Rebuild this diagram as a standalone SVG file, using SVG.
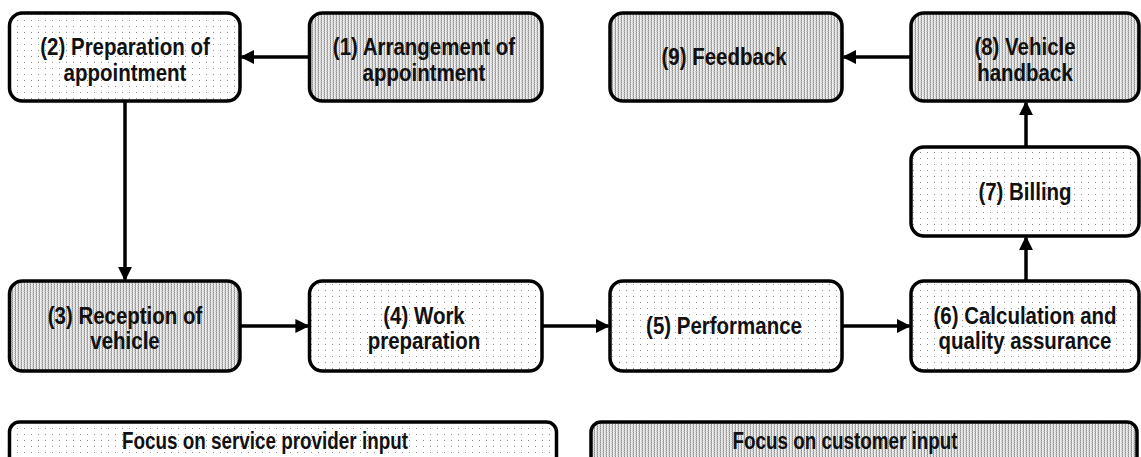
<svg xmlns="http://www.w3.org/2000/svg" width="1141" height="457" viewBox="0 0 1141 457">
<defs>
<pattern id="dots" x="0" y="0" width="7" height="6" patternUnits="userSpaceOnUse">
<rect width="7" height="6" fill="#ffffff"/>
<rect x="3" y="2" width="1" height="1" fill="#8f8f8f"/>
</pattern>
<pattern id="dense" x="0" y="0" width="3" height="2" patternUnits="userSpaceOnUse">
<rect width="3" height="2" fill="#ececec"/>
<rect x="0" y="0" width="1" height="1" fill="#8c8c8c"/>
<rect x="0" y="1" width="1" height="1" fill="#b4b4b4"/>
<rect x="2" y="1" width="1" height="1" fill="#c8c8c8"/>
</pattern>
<marker id="arr" viewBox="0 0 10 10" refX="9" refY="5" markerWidth="4" markerHeight="4" orient="auto" markerUnits="strokeWidth">
<path d="M0,0 L10,5 L0,10 Z" fill="#000"/>
</marker>
</defs>
<style>
.p{fill:url(#dots);stroke:#000;stroke-width:3.5}
.c{fill:url(#dense);stroke:#000;stroke-width:3.5}
text{font-family:"Liberation Sans",Arial,sans-serif;font-weight:bold;font-size:23px;fill:#111;text-anchor:middle}
.l{font-size:23px}
.e{fill:none;stroke:#000;stroke-width:3.5;marker-end:url(#arr)}
</style>
<g id="n2"><rect class="p" x="9.5" y="13" width="230.5" height="88" rx="13"/><text transform="translate(125,55) scale(0.89,1)"><tspan x="0" y="0">(2) Preparation of</tspan><tspan x="0" y="26">appointment</tspan></text></g>
<g id="n1"><rect class="c" x="309.5" y="13" width="232.5" height="88" rx="13"/><text transform="translate(424,55) scale(0.89,1)"><tspan x="0" y="0">(1) Arrangement of</tspan><tspan x="0" y="26">appointment</tspan></text></g>
<g id="n9"><rect class="c" x="610" y="13" width="232" height="88" rx="13"/><text transform="translate(724,65) scale(0.89,1)">(9) Feedback</text></g>
<g id="n8"><rect class="c" x="911" y="13" width="228" height="88" rx="13"/><text transform="translate(1025,55) scale(0.89,1)"><tspan x="0" y="0">(8) Vehicle</tspan><tspan x="0" y="26">handback</tspan></text></g>
<g id="n7"><rect class="p" x="911" y="147" width="228" height="89" rx="13"/><text transform="translate(1025,200) scale(0.89,1)">(7) Billing</text></g>
<g id="n3"><rect class="c" x="9.5" y="281" width="230.5" height="90" rx="13"/><text transform="translate(125,323.5) scale(0.89,1)"><tspan x="0" y="0">(3) Reception of</tspan><tspan x="0" y="26">vehicle</tspan></text></g>
<g id="n4"><rect class="p" x="309.5" y="281" width="232.5" height="90" rx="13"/><text transform="translate(424,323.5) scale(0.89,1)"><tspan x="0" y="0">(4) Work</tspan><tspan x="0" y="26">preparation</tspan></text></g>
<g id="n5"><rect class="p" x="610" y="281" width="232" height="90" rx="13"/><text transform="translate(724,334) scale(0.89,1)">(5) Performance</text></g>
<g id="n6"><rect class="p" x="911" y="281" width="228" height="90" rx="13"/><text transform="translate(1025,323.5) scale(0.89,1)"><tspan x="0" y="0">(6) Calculation and</tspan><tspan x="0" y="26">quality assurance</tspan></text></g>
<g id="legend-provider"><rect class="p" x="9.5" y="422" width="547" height="50" rx="10"/><text class="l" transform="translate(265,449) scale(0.82,1)">Focus on service provider input</text></g>
<g id="legend-customer"><rect class="c" x="591" y="422" width="546" height="50" rx="10"/><text class="l" transform="translate(845,449) scale(0.82,1)">Focus on customer input</text></g>
<g id="connectors">
<path class="e" d="M309.5,57 L241.5,57"/>
<path class="e" d="M125,101 L125,279.5"/>
<path class="e" d="M240,326 L308,326"/>
<path class="e" d="M542,326 L608.5,326"/>
<path class="e" d="M842,326 L909.5,326"/>
<path class="e" d="M1026,281 L1026,237.5"/>
<path class="e" d="M1026,147 L1026,102.5"/>
<path class="e" d="M911,57 L843.5,57"/>
</g>
</svg>
